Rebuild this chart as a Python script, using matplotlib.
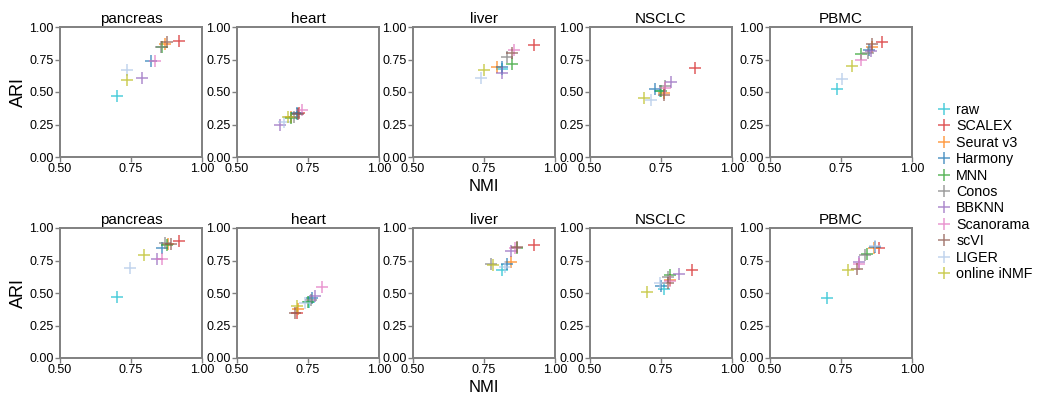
import matplotlib.pyplot as plt

plt.rcParams['font.family'] = ['Liberation Sans', 'DejaVu Sans']

methods = ['raw', 'SCALEX', 'Seurat v3', 'Harmony', 'MNN', 'Conos', 'BBKNN',
           'Scanorama', 'scVI', 'LIGER', 'online iNMF']
colors = ['#17becf', '#d62728', '#ff7f0e', '#1f77b4', '#2ca02c', '#7f7f7f',
          '#9467bd', '#e377c2', '#8c564b', '#aec7e8', '#bcbd22']
datasets = ['pancreas', 'heart', 'liver', 'NSCLC', 'PBMC']

# NMI / ARI per method (same order as `methods`), first row
top_nmi = {
    'pancreas': [0.70, 0.92, 0.87, 0.82, 0.86, 0.855, 0.79, 0.835, 0.875, 0.735, 0.735],
    'heart':    [0.71, 0.72, 0.69, 0.71, 0.69, 0.70, 0.65, 0.73, 0.715, 0.665, 0.68],
    'liver':    [0.815, 0.925, 0.795, 0.815, 0.85, 0.83, 0.815, 0.855, 0.85, 0.74, 0.75],
    'NSCLC':    [0.745, 0.87, 0.76, 0.73, 0.75, 0.765, 0.785, 0.765, 0.76, 0.715, 0.69],
    'PBMC':     [0.735, 0.895, 0.86, 0.85, 0.82, 0.845, 0.855, 0.82, 0.86, 0.755, 0.79],
}
top_ari = {
    'pancreas': [0.47, 0.89, 0.87, 0.735, 0.845, 0.845, 0.61, 0.735, 0.885, 0.67, 0.59],
    'heart':    [0.33, 0.34, 0.31, 0.335, 0.30, 0.31, 0.245, 0.36, 0.33, 0.27, 0.305],
    'liver':    [0.68, 0.86, 0.69, 0.695, 0.715, 0.77, 0.65, 0.82, 0.80, 0.61, 0.67],
    'NSCLC':    [0.51, 0.685, 0.49, 0.52, 0.51, 0.55, 0.575, 0.53, 0.48, 0.44, 0.455],
    'PBMC':     [0.525, 0.885, 0.85, 0.82, 0.79, 0.80, 0.815, 0.745, 0.87, 0.60, 0.70],
}

# second row
bottom_nmi = {
    'pancreas': [0.70, 0.92, 0.88, 0.86, 0.875, 0.87, 0.84, 0.86, 0.89, 0.745, 0.795],
    'heart':    [0.755, 0.71, 0.715, 0.765, 0.75, 0.76, 0.775, 0.80, 0.705, 0.74, 0.71],
    'liver':    [0.815, 0.925, 0.845, 0.83, 0.865, 0.775, 0.845, 0.86, 0.865, 0.825, 0.78],
    'NSCLC':    [0.76, 0.86, 0.78, 0.75, 0.78, 0.775, 0.815, 0.78, 0.775, 0.745, 0.70],
    'PBMC':     [0.70, 0.885, 0.865, 0.87, 0.84, 0.835, 0.815, 0.815, 0.805, 0.87, 0.775],
}
bottom_ari = {
    'pancreas': [0.47, 0.90, 0.88, 0.85, 0.87, 0.885, 0.765, 0.765, 0.875, 0.69, 0.795],
    'heart':    [0.43, 0.35, 0.375, 0.46, 0.43, 0.45, 0.48, 0.545, 0.35, 0.42, 0.40],
    'liver':    [0.68, 0.87, 0.735, 0.72, 0.845, 0.72, 0.82, 0.845, 0.855, 0.70, 0.715],
    'NSCLC':    [0.53, 0.68, 0.60, 0.555, 0.64, 0.62, 0.645, 0.59, 0.58, 0.575, 0.505],
    'PBMC':     [0.46, 0.85, 0.845, 0.855, 0.80, 0.79, 0.735, 0.725, 0.685, 0.86, 0.68],
}

W, H = 1037, 395
fig = plt.figure(figsize=(W / 100, H / 100), dpi=100)

lefts = [60, 237, 413, 590, 770]
aw, ah = 142, 130
rows = [(157, top_nmi, top_ari), (358, bottom_nmi, bottom_ari)]

for bottom_px, nmi, ari in rows:
    for j, name in enumerate(datasets):
        ax = fig.add_axes([lefts[j] / W, (H - bottom_px) / H, aw / W, ah / H])
        for k, m in enumerate(methods):
            ax.plot(nmi[name][k], ari[name][k], marker='+', ms=8, mew=1.1,
                    color=colors[k], alpha=0.75, linestyle='none', label=m)
        ax.set_xlim(0.5, 1.0)
        ax.set_ylim(0.0, 1.0)
        ax.set_xticks([0.5, 0.75, 1.0])
        ax.set_yticks([0, 0.25, 0.5, 0.75, 1.0])
        ax.set_xticklabels(['0.50', '0.75', '1.00'])
        ax.set_yticklabels(['0.00', '0.25', '0.50', '0.75', '1.00'])
        ax.tick_params(labelsize=9, length=3.5, width=1, color='#808080', pad=1)
        for s in ax.spines.values():
            s.set_color('#808080')
            s.set_linewidth(1.4)
        ax.set_title(name, fontsize=11, pad=3)
        if j == 0:
            ax.set_ylabel('ARI', fontsize=13, labelpad=2)
        if j == 2:
            ax.set_xlabel('NMI', fontsize=12, labelpad=3)
        if bottom_px == 157 and j == 0:
            handles, labels = ax.get_legend_handles_labels()

fig.legend(handles, labels, loc='center left', bbox_to_anchor=(932 / W, 0.514),
           frameon=False, fontsize=10.3, labelspacing=0.17, handlelength=0.9,
           handletextpad=0.4, borderaxespad=0)

fig.savefig('out.png', dpi=100)
